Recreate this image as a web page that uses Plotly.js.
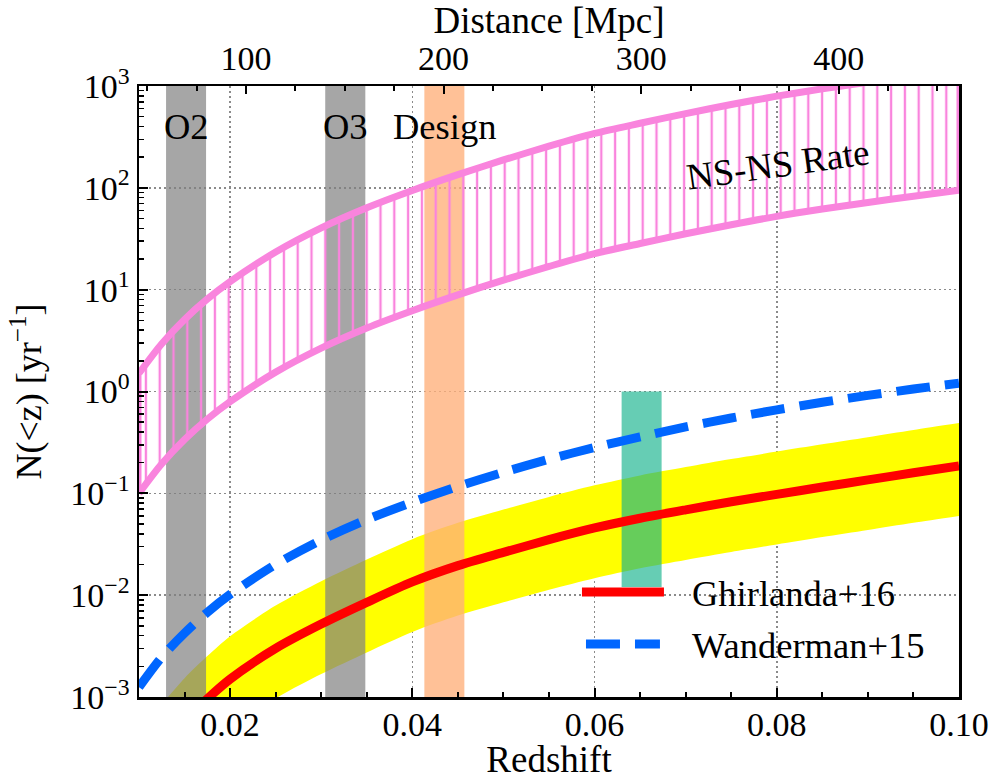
<!DOCTYPE html>
<html><head><meta charset="utf-8">
<script src="https://cdn.plot.ly/plotly-3.0.1.min.js"></script>
<style>html,body{margin:0;padding:0;background:#fff}</style>
</head><body><div id="chart" style="width:995px;height:780px"></div>
<script>
// ---- data ----
const redshift = [0.01,0.0125,0.015,0.0175,0.02,0.025,0.03,0.035,0.04,0.045,0.05,0.055,0.06,0.065,0.07,0.075,0.08,0.085,0.09,0.095,0.10];
const nsnsLower = [0.10,0.195,0.337,0.535,0.794,1.55,2.67,4.21,6.22,8.89,12.4,16.9,22.6,28.4,35.4,43.4,52.5,61.9,71.9,82.8,94.6];
const nsnsUpper = [1.51,2.95,5.1,8.09,12.0,23.4,40.4,63.7,94.2,134.6,187.9,256.4,342,430.5,535.8,657.7,794.3,937.6,1089,1253,1432];
const ghirlanda = [1.53e-4,3.2e-4,5.8e-4,9.6e-4,1.5e-3,3.0e-3,5.2e-3,8.5e-3,0.0135,0.0195,0.0263,0.0351,0.0457,0.0569,0.0689,0.0826,0.0977,0.1153,0.1355,0.1592,0.1862];
const ghirlandaHigh = [4.0e-4,8.4e-4,1.53e-3,2.52e-3,3.95e-3,7.9e-3,0.0137,0.0224,0.0355,0.0513,0.0692,0.0923,0.120,0.150,0.181,0.217,0.257,0.303,0.356,0.419,0.490];
const ghirlandaLow = [4.9e-5,1.03e-4,1.87e-4,3.1e-4,4.8e-4,9.7e-4,1.68e-3,2.74e-3,4.35e-3,6.3e-3,8.5e-3,0.0113,0.0147,0.0184,0.0222,0.0266,0.0315,0.0372,0.0437,0.0514,0.060];
const wanderman = [1.25e-3,2.47e-3,4.24e-3,6.79e-3,0.01016,0.02004,0.03483,0.05521,0.08166,0.1167,0.1611,0.2163,0.2818,0.3589,0.4487,0.5495,0.6607,0.7834,0.9162,1.057,1.208];

const runNames = ['O2','O3','Design'];
const runZmin = [0.01297,0.03044,0.04132];
const runZmax = [0.01736,0.03484,0.04571];
const grbZ = [0.06297,0.06736];
const grbN = [0.012,1.0];

const yRange = [1e-3,1e3];
const distanceRange = [45.8,460.9];
const distanceTicks = [100,200,300,400];
const zTicks = [0.02,0.04,0.06,0.08,0.10];
const zTickText = ['0.02','0.04','0.06','0.08','0.10'];
const yTickVals = [1e-3,1e-2,1e-1,1,1e1,1e2,1e3];
const yTickText = ['10<sup>\u22123</sup>','10<sup>\u22122</sup>','10<sup>\u22121</sup>','10<sup>0</sup>','10<sup>1</sup>','10<sup>2</sup>','10<sup>3</sup>'];
const seriesNames = ['Ghirlanda+16','Wanderman+15'];

// ---- styles ----
const FONT = 'Liberation Serif';
const PINK = '#f984dd';
const RED = '#ff0000';
const BLUE = '#0066ff';

const minorY = [];
for (let d=-3; d<3; d++) for (let k=2; k<10; k++) minorY.push(k*Math.pow(10,d));

function rect(x0,x1,y0,y1,color){
  return {x:[x0,x1,x1,x0,x0], y:[y0,y0,y1,y1,y0], mode:'lines', fill:'toself',
    fillcolor:color, line:{width:0}, hoverinfo:'skip', showlegend:false, xaxis:'x', yaxis:'y'};
}
const SPL = {shape:'spline', smoothing:0.8};

const traces = [];
traces.push({x:redshift, y:ghirlandaLow, mode:'lines', line:Object.assign({width:0, color:'#ffff00'},SPL), showlegend:false, hoverinfo:'skip'});
traces.push({x:redshift, y:ghirlandaHigh, mode:'lines', line:Object.assign({width:0, color:'#ffff00'},SPL), fill:'tonexty', fillcolor:'#ffff00', showlegend:false, hoverinfo:'skip'});
const runColors = ['rgba(128,128,128,0.7)','rgba(128,128,128,0.7)','rgba(255,176,122,0.78)'];
for (let i=0;i<runNames.length;i++) traces.push(rect(runZmin[i], runZmax[i], yRange[0], yRange[1], runColors[i]));
traces.push(rect(grbZ[0], grbZ[1], grbN[0], grbN[1], 'rgba(20,178,140,0.65)'));
// NS-NS band: lower edge, hatched upper edge, and the two end caps
traces.push({x:redshift, y:nsnsLower, mode:'lines', line:Object.assign({color:PINK, width:7},SPL), showlegend:false, hoverinfo:'skip'});
traces.push({x:redshift, y:nsnsUpper, mode:'lines', fill:'tonexty', fillcolor:'rgba(0,0,0,0)',
  fillpattern:{shape:'|', size:13.8, solidity:0.17, fgcolor:PINK, bgcolor:'rgba(0,0,0,0)'},
  line:Object.assign({color:PINK, width:7},SPL), showlegend:false, hoverinfo:'skip'});
const last = redshift.length-1;
traces.push({x:[redshift[0],redshift[0]], y:[nsnsLower[0],nsnsUpper[0]], mode:'lines', line:{color:PINK,width:5}, showlegend:false, hoverinfo:'skip'});
traces.push({x:[redshift[last],redshift[last]], y:[nsnsLower[last],nsnsUpper[last]], mode:'lines', line:{color:PINK,width:5}, showlegend:false, hoverinfo:'skip'});
traces.push({x:redshift, y:ghirlanda, name:seriesNames[0], mode:'lines', line:Object.assign({color:RED, width:9},SPL), showlegend:false});
traces.push({x:redshift, y:wanderman, name:seriesNames[1], mode:'lines', line:Object.assign({color:BLUE, width:9, dash:'34px,15px'},SPL), showlegend:false});
// carrier for the top distance axis (invisible)
traces.push({x:distanceRange, y:[1,1], xaxis:'x2', yaxis:'y', mode:'markers', marker:{opacity:0,size:1}, hoverinfo:'skip', showlegend:false});

const gridStyle = {showgrid:true, gridcolor:'#8a8a8a', gridwidth:1.5, griddash:'2px,3px'};

const layout = {
  width:995, height:780,
  margin:{l:139, r:36, t:86, b:83},
  paper_bgcolor:'#fff', plot_bgcolor:'#fff',
  font:{family:FONT, size:34, color:'#000'},
  showlegend:false,
  xaxis: Object.assign({
    range:[0.01,0.10], tickmode:'array', tickvals:zTicks, ticktext:zTickText,
    ticks:'inside', ticklen:9, tickwidth:2, tickcolor:'#000', ticklabelstandoff:-4,
    minor:{dtick:0.005, tick0:0, ticks:'inside', ticklen:5, tickwidth:2, tickcolor:'#000', showgrid:false},
    showline:true, linecolor:'#000', linewidth:2.5, mirror:false, zeroline:false,
    title:{text:'Redshift', font:{size:37}, standoff:6}, automargin:false,
    tickfont:{size:34}
  }, gridStyle),
  xaxis2: {
    overlaying:'x', side:'top', anchor:'y', range:distanceRange, tickmode:'array', tickvals:distanceTicks,
    ticks:'inside', ticklen:8, tickwidth:2, tickcolor:'#000',
    minor:{dtick:25, tick0:0, ticks:'inside', ticklen:5, tickwidth:2, tickcolor:'#000', showgrid:false},
    showgrid:false, showline:true, linecolor:'#000', linewidth:2.5, zeroline:false,
    title:{text:'Distance [Mpc]', font:{size:37}, standoff:4}, automargin:false,
    tickfont:{size:34}
  },
  yaxis: Object.assign({
    type:'log', range:[-3,3], tickmode:'array', tickvals:yTickVals, ticktext:yTickText,
    ticks:'inside', ticklen:9, tickwidth:2, tickcolor:'#000',
    minor:{tickmode:'array', tickvals:minorY, ticks:'inside', ticklen:5, tickwidth:1.5, tickcolor:'#000', showgrid:false},
    showline:true, linecolor:'#000', linewidth:2.5, mirror:true, zeroline:false,
    title:{text:'N(&lt;z) [yr<sup>\u22121</sup>]', font:{size:36}, standoff:18}, automargin:false,
    tickfont:{size:34}
  }, gridStyle),
  annotations: [],
  shapes: []
};

for (let i=0;i<runNames.length;i++) {
  layout.annotations.push({x:(runZmin[i]+runZmax[i])/2, y:0.933, xref:'x', yref:'paper', text:runNames[i],
    showarrow:false, xanchor:'center', yanchor:'middle', font:{size:36.5}});
}
layout.annotations.push({x:0.0801, y:0.871, xref:'x', yref:'paper', text:'NS-NS Rate', textangle:-8,
  showarrow:false, xanchor:'center', yanchor:'middle', font:{size:37}});
// legend (drawn manually in the same spot as the reference)
layout.shapes.push({type:'line', xref:'paper', yref:'paper', x0:0.5402, x1:0.6402, y0:0.1718, y1:0.1718, line:{color:RED, width:9}});
layout.shapes.push({type:'line', xref:'paper', yref:'paper', x0:0.5451, x1:0.6353, y0:0.0867, y1:0.0867, line:{color:BLUE, width:9, dash:'34px,15px'}});
layout.annotations.push({x:0.672, y:0.1686, xref:'paper', yref:'paper', text:seriesNames[0], showarrow:false, xanchor:'left', yanchor:'middle', font:{size:36.5}});
layout.annotations.push({x:0.672, y:0.0851, xref:'paper', yref:'paper', text:seriesNames[1], showarrow:false, xanchor:'left', yanchor:'middle', font:{size:36.5}});

Plotly.newPlot('chart', traces, layout, {staticPlot:true, displayModeBar:false});
</script>
</body></html>
